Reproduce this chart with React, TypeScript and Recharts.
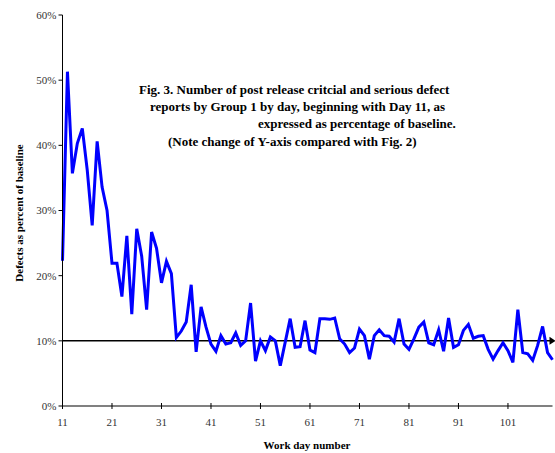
import React from "react";
import { LineChart, Line, XAxis, YAxis, ReferenceLine } from "recharts";

const firstDay = 11;

// defect reports as % of baseline, one value per work day from day 11
const defectPct = [
  22.3, 51.3, 35.7, 40.3, 42.6, 36.2, 27.7, 40.6, 33.6, 30.0,
  21.9, 21.9, 16.8, 26.1, 14.1, 27.2, 23.0, 14.8, 26.7, 24.2,
  18.9, 22.2, 20.3, 10.5, 11.5, 12.9, 18.6, 8.3, 15.2, 12.1,
  9.5, 8.4, 10.8, 9.5, 9.7, 11.2, 9.3, 10.0, 15.8, 6.9,
  10.0, 8.5, 10.6, 10.0, 6.2, 9.8, 13.4, 9.0, 9.1, 13.1,
  8.6, 8.2, 13.4, 13.4, 13.3, 13.5, 10.3, 9.5, 8.2, 8.9,
  11.8, 10.8, 7.2, 10.8, 11.7, 10.8, 10.7, 9.8, 13.4, 9.5,
  8.7, 10.3, 12.1, 12.9, 9.7, 9.4, 11.7, 8.4, 13.5, 9.0,
  9.4, 11.6, 12.5, 10.4, 10.7, 10.8, 8.7, 7.2, 8.5, 9.7,
  8.5, 6.7, 14.8, 8.2, 8.0, 7.0, 9.3, 12.2, 8.2, 7.1
];

const xTicks = [11, 21, 31, 41, 51, 61, 71, 81, 91, 101];
const yTicks = [0, 10, 20, 30, 40, 50, 60];
const baseline = 10;

const titleLines = [
  { text: "Fig. 3. Number of post release critcial and serious defect", left: 139, top: 81 },
  { text: "reports by Group 1 by day, beginning with Day 11, as", left: 150, top: 98 },
  { text: "expressed as percentage of baseline.", left: 258, top: 115 },
  { text: "(Note change of Y-axis compared with Fig. 2)", left: 168, top: 133 }
];

const data = defectPct.map((v, i) => ({ day: firstDay + i, pct: v }));

const serif = "'Liberation Serif', 'Times New Roman', serif";

const XTick = (props: any) => {
  const { x, y, payload } = props;
  return (
    <g>
      <line x1={x} x2={x} y1={y - 3} y2={y + 3} stroke="#000" strokeWidth={1} />
      <text x={x} y={y + 20} textAnchor="middle" fontSize={11} fontFamily={serif} fill="#333">
        {payload.value}
      </text>
    </g>
  );
};

const ArrowLine = (props: any) => {
  const { x1, y1, x2, y2 } = props;
  return (
    <g>
      <line x1={x1} y1={y1} x2={x2} y2={y2} stroke="#000" strokeWidth={1.5} />
      <polygon points={`${x2 - 3},${y2 - 4} ${x2 + 3},${y2} ${x2 - 3},${y2 + 4}`} fill="#000" />
    </g>
  );
};

export default function App() {
  return (
    <div style={{ position: "absolute", left: 0, top: 0, width: 555, height: 453, background: "#fff" }}>
      <LineChart
        width={555}
        height={453}
        data={data}
        margin={{ top: 15, right: 2.5, left: 22.5, bottom: 17 }}
      >
        <XAxis
          dataKey="day"
          type="number"
          domain={[11, 110]}
          ticks={xTicks}
          height={30}
          tickSize={0}
          tickMargin={0}
          tickLine={false}
          tick={<XTick />}
          axisLine={{ stroke: "#808080", strokeWidth: 2 }}
        />
        <YAxis
          domain={[0, 60]}
          ticks={yTicks}
          width={40}
          tickSize={4}
          tickFormatter={(v: number) => `${v}%`}
          tick={{ fontSize: 11, fontFamily: serif, fill: "#333" }}
          tickLine={{ stroke: "#000" }}
          axisLine={{ stroke: "#000", strokeWidth: 1 }}
        />
        <ReferenceLine y={baseline} stroke="#000" shape={<ArrowLine />} />
        <Line
          type="linear"
          dataKey="pct"
          stroke="#0000ff"
          strokeWidth={3}
          dot={false}
          activeDot={false}
          isAnimationActive={false}
        />
      </LineChart>

      {titleLines.map((l) => (
        <div
          key={l.text}
          style={{
            position: "absolute",
            left: l.left,
            top: l.top,
            whiteSpace: "nowrap",
            fontFamily: serif,
            fontWeight: "bold",
            fontSize: 13,
            lineHeight: "17px",
            color: "#000"
          }}
        >
          {l.text}
        </div>
      ))}

      <div
        style={{
          position: "absolute",
          left: 19,
          top: 213,
          transform: "translate(-50%, -50%) rotate(-90deg)",
          whiteSpace: "nowrap",
          fontFamily: serif,
          fontWeight: "bold",
          fontSize: 11,
          color: "#000"
        }}
      >
        Defects as percent of baseline
      </div>

      <div
        style={{
          position: "absolute",
          left: 307,
          top: 445,
          transform: "translate(-50%, -50%)",
          whiteSpace: "nowrap",
          fontFamily: serif,
          fontWeight: "bold",
          fontSize: 11,
          color: "#000"
        }}
      >
        Work day number
      </div>
    </div>
  );
}
